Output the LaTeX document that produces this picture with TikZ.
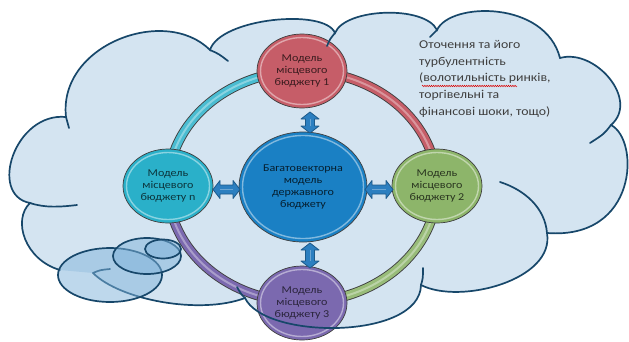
\documentclass[tikz,border=0pt]{standalone}
\usepackage{fontspec}
\newfontfamily\cf[FakeStretch=1.15]{Carlito}
\usetikzlibrary{shapes.geometric,decorations.pathmorphing,calc}
\definecolor{cloudfill}{HTML}{D4E4F1}
\definecolor{cloudline}{HTML}{17476A}
\definecolor{bubble}{HTML}{7FB3DA}
\definecolor{nred}{HTML}{C65D68}
\definecolor{ngreen}{HTML}{8DB56A}
\definecolor{npurple}{HTML}{7B69AF}
\definecolor{ncyan}{HTML}{2AB0C9}
\definecolor{ncentral}{HTML}{1A80C4}
\definecolor{arrowfill}{HTML}{2C7FC0}
\definecolor{arrowline}{HTML}{1D5A8A}
\definecolor{edgegray}{HTML}{3F3F3F}
\tikzset{
  cl/.style={draw=cloudline, line width=1.7pt, line cap=round},
  bnode/.style={ellipse, draw=edgegray, line width=0.7pt, minimum width=90pt, minimum height=74pt,
    inner sep=0pt, outer sep=0pt, align=center, font=\cf\fontsize{10.5}{11.6}\selectfont},
  cnode/.style={bnode, minimum width=128pt, minimum height=110pt, font=\cf\fontsize{10.5}{12}\selectfont},
  hilite/.style={draw=white, line width=1.4pt, opacity=0.45},
  arrowst/.style={fill=arrowfill, draw=arrowline, line width=0.8pt, line join=round},
  pics/dblarrow/.style={code={
    \filldraw[arrowst] (-#1,0) -- (-#1+7,-9) -- (-#1+7,-4.5) -- (#1-7,-4.5) -- (#1-7,-9) -- (#1,0)
      -- (#1-7,9) -- (#1-7,4.5) -- (-#1+7,4.5) -- (-#1+7,9) -- cycle;
    \draw[white, opacity=0.3, line width=1pt] (-#1+7,0) -- (#1-7,0);
  }},
}
\def\cloudpath{(66,117) .. controls (58,45) and (165,5) .. (210,50)
  .. controls (220,18) and (325,8) .. (335,33)
  .. controls (345,8) and (425,5) .. (437,30)
  .. controls (450,2) and (545,0) .. (560,58)
  .. controls (595,48) and (640,100) .. (611,125)
  .. controls (640,140) and (638,240) .. (547,233)
  .. controls (555,280) and (460,305) .. (421,285)
  .. controls (420,340) and (265,340) .. (245,298)
  .. controls (200,315) and (120,300) .. (93,273)
  -- (60,270)
  .. controls (25,260) and (12,220) .. (30,203)
  .. controls (-12,195) and (15,112) .. (66,117) -- cycle}
\def\ringarc#1#2{(ringc) ++(#1:134.5 and 115.5) arc[start angle=#1, end angle=#2, x radius=134.5, y radius=115.5]}
\begin{document}
\begin{tikzpicture}[x=1pt,y=-1pt]
\useasboundingbox (0,0) rectangle (629,341);
\fill[white] (0,0) rectangle (629,341);
% cloud body
\fill[cloudfill] \cloudpath;
% ring
\coordinate (ringc) at (302.5,186.5);
\foreach \a/\b/\c in {-90/0/nred, 0/90/ngreen!90!white, 90/180/npurple, 180/270/ncyan!85!white}{
  \draw[edgegray, line width=10pt] \ringarc{\a}{\b};
  \draw[\c, line width=8.2pt] \ringarc{\a}{\b};
  \draw[white, opacity=0.35, line width=2pt] \ringarc{\a}{\b};
}
% nodes
\node[bnode, fill=nred, text=nred!30!black] (n1) at (302,71) {Модель\\місцевого\\бюджету 1};
\node[bnode, fill=ngreen, text=ngreen!30!black] (n2) at (437,186) {Модель\\місцевого\\бюджету 2};
\node[bnode, fill=npurple, text=npurple!35!black] (n3) at (302,303) {Модель\\місцевого\\бюджету 3};
\node[bnode, fill=ncyan, text=ncyan!30!black] (nn) at (168,186) {Модель\\місцевого\\бюджету n};
\node[cnode, fill=ncentral, text=ncentral!25!black] (c) at (303,187) {Багатовекторна\\модель\\державного\\бюджету};
\foreach \n in {n1,n2,n3,nn}{
  \draw[hilite] (\n.center) ellipse [x radius=41.5pt, y radius=33.5pt];
}
\draw[hilite] (c.center) ellipse [x radius=60.5pt, y radius=51.5pt];
% double arrows
\path ($(n1.south)!.5!(c.north)+(7.5,2.5)$) pic[rotate=90] {dblarrow=10.5};
\path ($(c.south)!.5!(n3.north)+(7.5,1.5)$) pic[rotate=90] {dblarrow=12.5};
\path ($(nn.east)!.5!(c.west)+(0.5,3)$) pic {dblarrow=13.5};
\path ($(c.east)!.5!(n2.west)+(-0.5,3)$) pic {dblarrow=14};
% cloud outline (on top)
\draw[cl] (69,128) .. controls (67,122) .. (66,117) .. controls (58,45) and (165,5) .. (210,50)
  .. controls (220,18) and (325,8) .. (335,33)
  .. controls (345,8) and (425,5) .. (437,30)
  .. controls (450,2) and (545,0) .. (560,58)
  .. controls (595,48) and (640,100) .. (611,125)
  .. controls (640,140) and (638,240) .. (547,233)
  .. controls (555,280) and (460,305) .. (421,285)
  .. controls (420,340) and (265,340) .. (245,298)
  .. controls (200,315) and (120,300) .. (93,273);
\draw[cl] (60,270) .. controls (25,260) and (12,220) .. (30,203)
  .. controls (-12,195) and (15,112) .. (66,117);
% inner hooks of the cloud
\draw[cl] (210,50) .. controls (219,54) .. (228,61);
\draw[cl] (327,46) .. controls (330,39) .. (335,33);
\draw[cl] (430,37) .. controls (433,33) .. (437,30);
\draw[cl] (611,125) .. controls (604,134) .. (590,143);
\draw[cl] (500,182) .. controls (525,190) and (545,208) .. (547,233);
\draw[cl] (421,285) .. controls (423,278) .. (423,268);
\draw[cl] (245,298) .. controls (241,294) .. (237,287);
\draw[cl] (30,203) .. controls (45,208) and (60,207) .. (77,205);
\draw[cl] (93,273) .. controls (100,270) .. (110,269);
% thought bubbles
\filldraw[fill=bubble, fill opacity=0.5, cl] (110,275) ellipse [x radius=52, y radius=27];
\filldraw[fill=bubble, fill opacity=0.5, cl] (147,256) ellipse [x radius=34, y radius=18];
\filldraw[fill=bubble, fill opacity=0.5, cl] (163,249) ellipse [x radius=18, y radius=9.5];
% environment text
\node[anchor=north west, inner sep=0pt, align=left, text=edgegray,
  font=\cf\fontsize{12}{16.7}\selectfont] (env) at (419,40)
  {Оточення та його\\турбулентність\\(волотильність ринків,\\торгівельні та\\фінансові шоки, тощо)};
\draw[red!85!black, line width=0.5pt, decorate, decoration={snake, amplitude=0.7pt, segment length=2.2pt}] (422,86) -- (517,86);
\end{tikzpicture}
\end{document}
